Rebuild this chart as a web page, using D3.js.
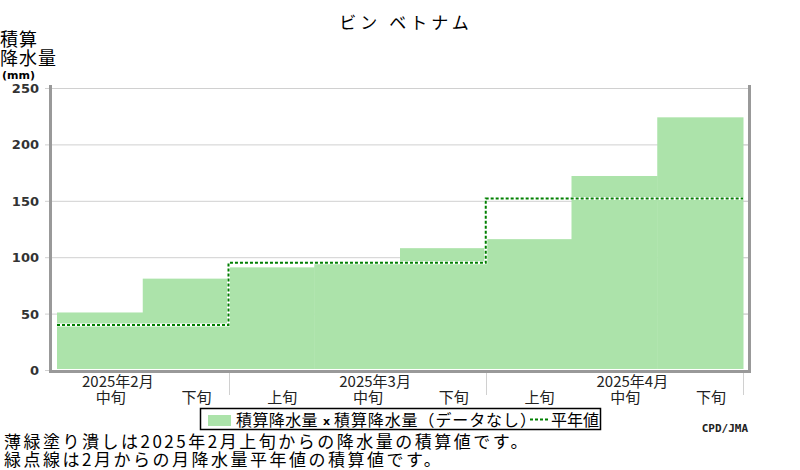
<!DOCTYPE html>
<html>
<head>
<meta charset="utf-8">
<script src="https://cdn.jsdelivr.net/npm/d3@7"></script>
<style>
  body { margin: 0; background: #fff; }
  svg { display: block; font-family: "Noto Sans CJK JP", "Noto Sans", sans-serif; }
</style>
</head>
<body>
<div id="chart"></div>
<script>
// dekads shown on the x axis, with the month each belongs to
let dekads = ['中旬', '下旬', '上旬', '中旬', '下旬', '上旬', '中旬', '下旬'];
let monthIndex = [0, 0, 1, 1, 1, 2, 2, 2];
let months = ['2025年2月', '2025年3月', '2025年4月'];
// accumulated precipitation (mm) per dekad
let precip = [51, 81, 91, 96, 108, 116, 172, 224];
// accumulated monthly normal (mm)
let normals = [40, 95, 152];
let yTicks = [0, 50, 100, 150, 200, 250];

let width = 800, height = 470;
let svg = d3.select('#chart').append('svg')
  .attr('width', width)
  .attr('height', height);

let x = d3.scaleBand()
  .domain(d3.range(dekads.length))
  .range([57, 743])
  .padding(0);
let y = d3.scaleLinear()
  .domain([0, 250])
  .range([370, 88]);

// title
svg.append('text')
  .attr('x', 406).attr('y', 29)
  .attr('text-anchor', 'middle')
  .attr('font-size', 17)
  .attr('letter-spacing', 4)
  .text('ビン ベトナム');

// y label
svg.append('text').attr('x', 0).attr('y', 46).attr('font-size', 18).attr('letter-spacing', 1).text('積算');
svg.append('text').attr('x', 0).attr('y', 65).attr('font-size', 18).attr('letter-spacing', 1).text('降水量');
svg.append('text').attr('x', 2).attr('y', 79).attr('font-size', 11)
  .attr('font-weight', 'bold').attr('font-family', 'DejaVu Sans').text('(mm)');

// gridlines
svg.append('g').selectAll('line')
  .data(yTicks.filter(d => d > 0))
  .enter().append('line')
  .attr('x1', 50).attr('x2', 748)
  .attr('y1', d => y(d) + 0.5).attr('y2', d => y(d) + 0.5)
  .attr('stroke', '#d0d0d0');

// tick marks outside left and inside right
svg.append('g').selectAll('line')
  .data(yTicks)
  .enter().append('line')
  .attr('x1', 45).attr('x2', 50)
  .attr('y1', d => y(d) + 0.5).attr('y2', d => y(d) + 0.5)
  .attr('stroke', '#d0d0d0');
svg.append('g').selectAll('line')
  .data(yTicks.filter(d => d > 0 && d < 250))
  .enter().append('line')
  .attr('x1', 743).attr('x2', 748)
  .attr('y1', d => y(d) + 0.5).attr('y2', d => y(d) + 0.5)
  .attr('stroke', '#d0d0d0');

// y tick labels
svg.append('g').selectAll('text')
  .data(yTicks)
  .enter().append('text')
  .attr('x', 39)
  .attr('y', d => y(d) + 5)
  .attr('text-anchor', 'end')
  .attr('font-size', 13)
  .attr('font-weight', 'bold')
  .attr('font-family', 'DejaVu Sans')
  .attr('fill', '#333')
  .text(d => d);

// bars
svg.append('g').selectAll('rect')
  .data(precip)
  .enter().append('rect')
  .attr('x', (d, i) => x(i))
  .attr('width', x.bandwidth() + 0.5)
  .attr('y', d => y(d))
  .attr('height', d => y(0) - 1 - y(d))
  .attr('fill', '#ace3aa');

// normal step line
let monthStart = months.map((m, k) => x(monthIndex.indexOf(k)));
let monthEnd = months.map((m, k) => x(monthIndex.lastIndexOf(k)) + x.bandwidth());
let pts = [];
normals.forEach((v, k) => {
  pts.push([monthStart[k], y(v)]);
  pts.push([monthEnd[k], y(v)]);
});
let line = d3.line();
svg.append('path')
  .attr('d', line(pts))
  .attr('fill', 'none')
  .attr('stroke', '#fff')
  .attr('stroke-width', 3);
svg.append('path')
  .attr('d', line(pts))
  .attr('fill', 'none')
  .attr('stroke', '#008000')
  .attr('stroke-width', 2)
  .attr('stroke-dasharray', '3,2');

// axis frame
svg.append('path')
  .attr('d', 'M50.5,85V371.5H749.5V85')
  .attr('fill', 'none')
  .attr('stroke', '#999')
  .attr('stroke-width', 3);

// month separators
let seps = months.map((m, k) => monthEnd[k]);
svg.append('g').selectAll('line')
  .data(seps)
  .enter().append('line')
  .attr('x1', d => Math.round(d) + 0.5).attr('x2', d => Math.round(d) + 0.5)
  .attr('y1', 373).attr('y2', 395)
  .attr('stroke', '#d0d0d0');

// dekad labels
svg.append('g').selectAll('text')
  .data(dekads)
  .enter().append('text')
  .attr('x', (d, i) => x(i) + x.bandwidth() / 2 + 11)
  .attr('y', 403)
  .attr('text-anchor', 'middle')
  .attr('font-size', 15)
  .attr('fill', '#222')
  .text(d => d);

// month labels above the middle dekad
svg.append('g').selectAll('text')
  .data(months)
  .enter().append('text')
  .attr('x', (m, k) => {
    let mid = dekads.findIndex((d, i) => monthIndex[i] === k && d === '中旬');
    return x(mid) + x.bandwidth() / 2 + 18;
  })
  .attr('y', 387)
  .attr('text-anchor', 'middle')
  .attr('font-size', 15)
  .attr('fill', '#222')
  .text(d => d);

// legend
let lg = svg.append('g');
lg.append('rect')
  .attr('x', 200.5).attr('y', 408.5)
  .attr('width', 400).attr('height', 21)
  .attr('fill', '#fff').attr('stroke', '#000').attr('stroke-width', 1.5);
lg.append('rect')
  .attr('x', 208).attr('y', 415).attr('width', 23).attr('height', 11)
  .attr('fill', '#ace3aa');
lg.append('text').attr('x', 236).attr('y', 426).attr('font-size', 16)
  .attr('letter-spacing', 0.4).text('積算降水量');
lg.append('text').attr('x', 323).attr('y', 425).attr('font-size', 11)
  .attr('font-weight', 'bold').attr('font-family', 'DejaVu Sans').text('x');
lg.append('text').attr('x', 334).attr('y', 426).attr('font-size', 16)
  .attr('letter-spacing', 0.9).text('積算降水量（データなし）');
lg.append('line')
  .attr('x1', 530).attr('x2', 548).attr('y1', 419.5).attr('y2', 419.5)
  .attr('stroke', '#008000').attr('stroke-width', 2).attr('stroke-dasharray', '3,2');
lg.append('text').attr('x', 551).attr('y', 426).attr('font-size', 16).text('平年値');

// credit
svg.append('text')
  .attr('x', 748).attr('y', 432)
  .attr('text-anchor', 'end')
  .attr('font-size', 11)
  .attr('font-weight', 'bold')
  .attr('font-family', 'DejaVu Sans Mono')
  .attr('fill', '#222')
  .text('CPD/JMA');

// notes
svg.append('text').attr('x', 4).attr('y', 448).attr('font-size', 17)
  .attr('letter-spacing', 2.5)
  .text('薄緑塗り潰しは2025年2月上旬からの降水量の積算値です。');
svg.append('text').attr('x', 4).attr('y', 466).attr('font-size', 17)
  .attr('letter-spacing', 2.5)
  .text('緑点線は2月からの月降水量平年値の積算値です。');
</script>
</body>
</html>
